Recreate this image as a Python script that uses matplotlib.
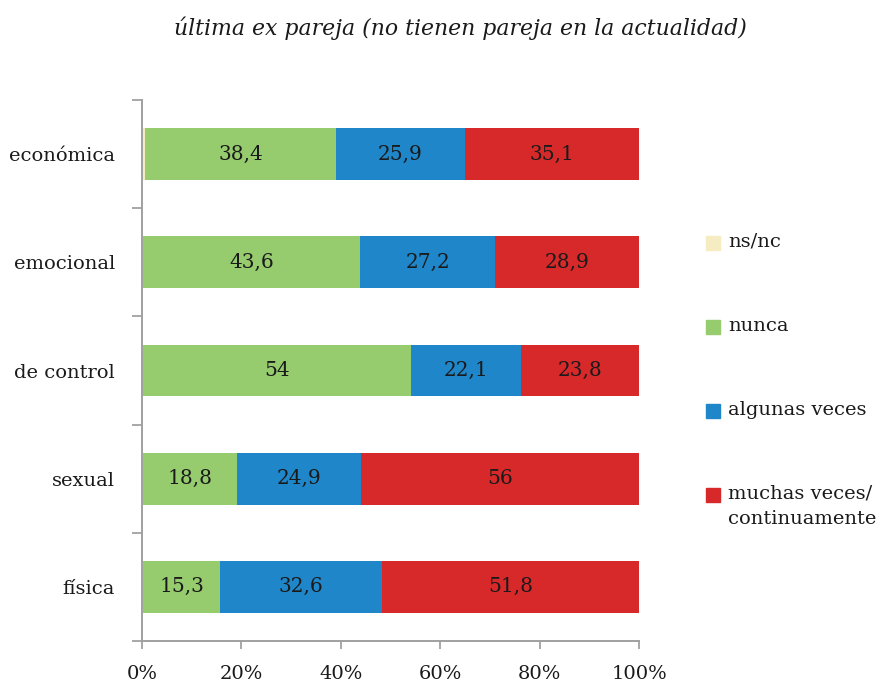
import matplotlib
matplotlib.use("Agg")
import matplotlib.pyplot as plt
import numpy as np

categories = ["económica", "emocional", "de control", "sexual", "física"]
series_names = ["ns/nc", "nunca", "algunas veces", "muchas veces/\ncontinuamente"]
nsnc = [0.6, 0.3, 0.1, 0.3, 0.3]
nunca = [38.4, 43.6, 54.0, 18.8, 15.3]
algunas = [25.9, 27.2, 22.1, 24.9, 32.6]
muchas = [35.1, 28.9, 23.8, 56.0, 51.8]
labels_nunca = ["38,4", "43,6", "54", "18,8", "15,3"]
labels_algunas = ["25,9", "27,2", "22,1", "24,9", "32,6"]
labels_muchas = ["35,1", "28,9", "23,8", "56", "51,8"]
xticks = [0, 20, 40, 60, 80, 100]
xticklabels = ["0%", "20%", "40%", "60%", "80%", "100%"]
title = "última ex pareja (no tienen pareja en la actualidad)"

colors = ["#F6ECC2", "#96CB6E", "#1F87C9", "#D7282A"]
font = "DejaVu Serif"
tcol = "#1a1a1a"

fig = plt.figure(figsize=(8.86, 6.9), dpi=100)
ax = fig.add_axes([142/886, 1-641/690, (639-142)/886, (641-100)/690])

y = np.arange(len(categories))
data = [nsnc, nunca, algunas, muchas]
labs = [None, labels_nunca, labels_algunas, labels_muchas]
left = np.zeros(len(categories))
for vals, col, lab in zip(data, colors, labs):
    vals = np.array(vals)
    ax.barh(y, vals, left=left, height=0.48, color=col, edgecolor="none")
    if lab is not None:
        for yi, (l, v, t) in enumerate(zip(left, vals, lab)):
            ax.text(l + v/2, yi, t, ha="center", va="center", fontsize=14.5,
                    family=font, color=tcol)
    left = left + vals

ax.set_xlim(0, 100)
ax.set_ylim(len(categories) - 0.5, -0.5)
ax.set_yticks(y)
ax.set_yticklabels(categories, family=font, fontsize=14, color=tcol)
ax.set_yticks(np.arange(-0.5, len(categories), 1.0), minor=True)
ax.tick_params(axis="y", which="major", length=0, pad=19.5)
ax.tick_params(axis="y", which="minor", length=7, color="#999999", width=1.2)
ax.set_xticks(xticks)
ax.set_xticklabels(xticklabels, family=font, fontsize=14, color=tcol)
ax.tick_params(axis="x", length=6, color="#999999", width=1.2, pad=11)
for s in ["top", "right"]:
    ax.spines[s].set_visible(False)
for s in ["left", "bottom"]:
    ax.spines[s].set_color("#A0A0A0")
    ax.spines[s].set_linewidth(1.4)

fig.text(460/886, 1-28/690, title, ha="center", va="center", fontsize=15.8,
         family=font, style="italic", color=tcol)

leg_y = [243, 327, 411, 495]
for name, col, ly in zip(series_names, colors, leg_y):
    fig.patches.append(plt.Rectangle((706/886, 1-(ly+7)/690), 14/886, 14/690,
                                     transform=fig.transFigure, color=col))
    fig.text(728/886, 1-(ly-10)/690, name, ha="left", va="top", fontsize=14,
             family=font, color=tcol, linespacing=1.5)

fig.savefig("out.png", dpi=100)
